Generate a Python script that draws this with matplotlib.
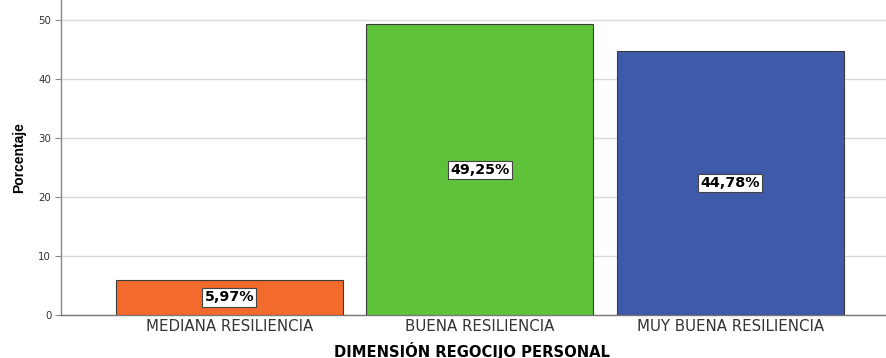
import matplotlib
matplotlib.use("Agg")
import matplotlib.pyplot as plt

categories = ["MEDIANA RESILIENCIA", "BUENA RESILIENCIA", "MUY BUENA RESILIENCIA"]
values = [5.97, 49.25, 44.78]
labels = ["5,97%", "49,25%", "44,78%"]
colors = ["#F26A2C", "#5EC23B", "#3F5AA8"]
yticks = [0, 10, 20, 30, 40, 50]

plt.rcParams['font.family'] = ['DejaVu Sans']

fig = plt.figure(figsize=(8.87, 3.58), dpi=100)
ax = fig.add_axes([61/887, 43/358, 1 - 61/887, 315/358])

x = list(range(len(categories)))
ax.bar(x, values, width=0.905, color=colors, edgecolor="#3a3a3a", linewidth=0.8, zorder=3)
for xi, v, lab in zip(x, values, labels):
    ax.text(xi, v / 2, lab, ha="center", va="center", fontsize=10.3, fontweight="bold",
            color="black", zorder=4,
            bbox=dict(boxstyle="square,pad=0.15", facecolor="white", edgecolor="#444444", linewidth=0.8))

ax.set_xlim(-0.672, 2.626)
ax.set_ylim(0, 53.4)
ax.set_yticks(yticks)
ax.set_yticklabels([str(t) for t in yticks], fontsize=7.4, color="#333333")
ax.set_xticks(x)
ax.set_xticklabels(categories, fontsize=10.8, color="#333333")
ax.tick_params(axis="x", length=0, pad=3)
ax.tick_params(axis="y", length=4, width=0.8, color="#888888", pad=3)
ax.yaxis.grid(True, color="#d9d9d9", linewidth=1.0, zorder=0)
ax.set_axisbelow(True)
for s in ["top", "right"]:
    ax.spines[s].set_visible(False)
ax.spines["left"].set_color("#888888")
ax.spines["left"].set_linewidth(1.0)
ax.spines["bottom"].set_color("#777777")
ax.spines["bottom"].set_linewidth(1.0)

ax.set_ylabel("Porcentaje", fontsize=10, family=["Liberation Sans Narrow", "Liberation Sans", "DejaVu Sans"],
              fontweight="bold", labelpad=9)
fig.text(0.532, 7.5/358, "DIMENSIÓN REGOCIJO PERSONAL", ha="center", va="center",
         fontsize=10.6, fontweight="bold", color="black")

fig.savefig("out.png", dpi=100)
